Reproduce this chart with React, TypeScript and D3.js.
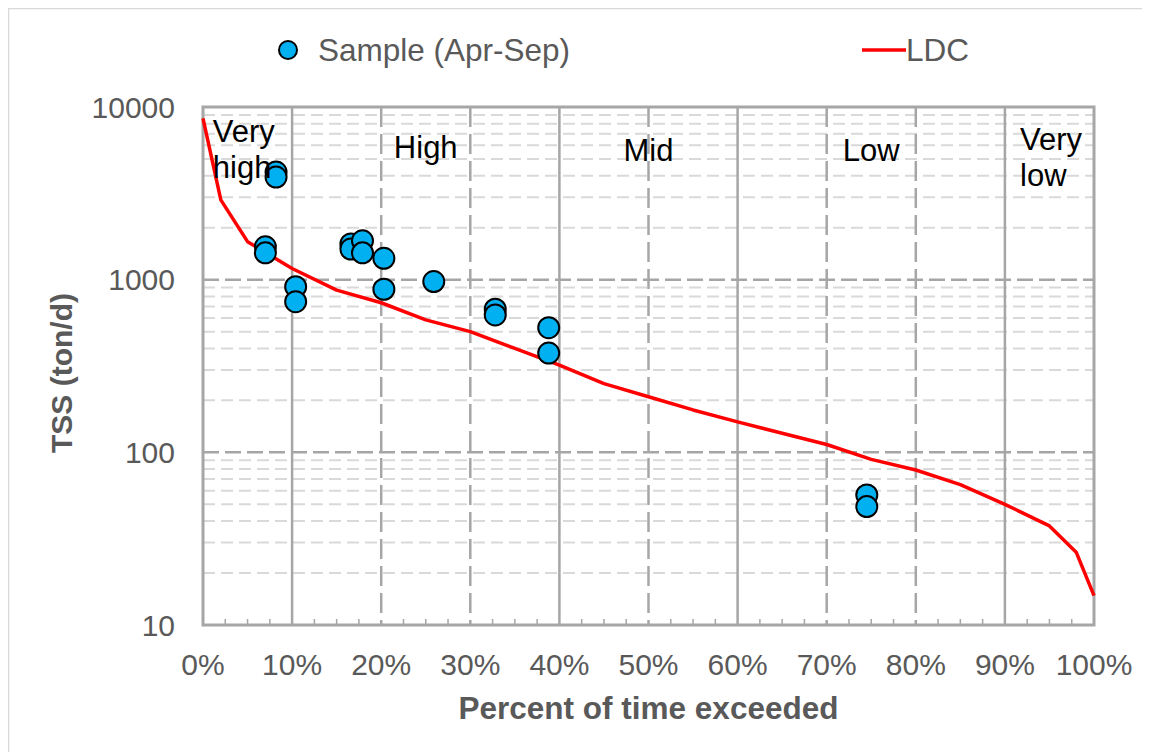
import React from "react";
import * as d3 from "d3";

// ---- data ----
const sampleExceed = [8.2, 8.2, 7.0, 7.0, 10.4, 10.4, 16.6, 16.6, 17.9, 17.9, 20.3, 20.3, 25.9, 32.8, 32.8, 38.8, 38.8, 74.5, 74.5];
const sampleTSS = [4200, 3930, 1550, 1430, 910, 745, 1610, 1505, 1680, 1430, 1330, 880, 975, 675, 625, 527, 376, 56.7, 48.5];

const ldcExceed = [0, 2, 5, 10, 15, 20, 25, 30, 35, 40, 45, 50, 55, 60, 65, 70, 75, 80, 85, 90, 95, 98, 100];
const ldcTSS = [8600, 2900, 1660, 1160, 870, 735, 585, 500, 400, 320, 250, 210, 176, 150, 129, 111, 91, 79, 65, 50, 37.5, 26.4, 14.8];

const xTicks = [0, 10, 20, 30, 40, 50, 60, 70, 80, 90, 100];
const yTicks = [10, 100, 1000, 10000];
const zoneBounds = [10, 40, 60, 90];

const legendLabels = ["Sample (Apr-Sep)", "LDC"];
const xTitle = "Percent of time exceeded";
const yTitle = "TSS (ton/d)";

const FONT = "'Liberation Sans', Arial, sans-serif";
const GRID_DARK = "#a6a6a6";
const GRID_LIGHT = "#d9d9d9";
const TEXT_GRAY = "#595959";

export default function App() {
  const left = 203, right = 1094, top = 107, bottom = 625;
  const x = d3.scaleLinear().domain([0, 100]).range([left, right]);
  const y = d3.scaleLog().domain([10, 10000]).range([bottom, top]);

  const minorY: number[] = [];
  for (let d = 10; d < 10000; d *= 10) {
    for (let k = 2; k <= 9; k++) minorY.push(d * k);
  }
  const minorX: number[] = d3.range(2.5, 100, 2.5).filter((v) => v % 10 !== 0);

  const line = d3
    .line<number>()
    .x((_, i) => x(ldcExceed[i]))
    .y((v) => y(v));

  return (
    <svg width={1142} height={744} style={{ display: "block", overflow: "hidden" }}>
      <g transform="translate(-8,-8)">
        <rect x={8} y={8} width={1142} height={744} fill="#fff" />
        {/* outer chart border */}
        <rect x={8.5} y={8.5} width={1200} height={800} fill="none" stroke={GRID_LIGHT} strokeWidth={1.5} />

        {/* minor horizontal gridlines */}
        {minorY.map((v) => (
          <line key={"my" + v} x1={left} x2={right} y1={y(v)} y2={y(v)} stroke={GRID_LIGHT} strokeWidth={2} strokeDasharray="12,6" />
        ))}
        {/* major horizontal gridlines */}
        {yTicks.slice(1, -1).map((v) => (
          <line key={"My" + v} x1={left} x2={right} y1={y(v)} y2={y(v)} stroke={GRID_DARK} strokeWidth={2.5} strokeDasharray="16,6" />
        ))}
        {/* vertical gridlines */}
        {xTicks.slice(1, -1).map((p) =>
          zoneBounds.includes(p) ? (
            <line key={"vx" + p} x1={x(p)} x2={x(p)} y1={top} y2={bottom} stroke={GRID_DARK} strokeWidth={2.5} />
          ) : (
            <line key={"vx" + p} x1={x(p)} x2={x(p)} y1={top} y2={bottom} stroke={GRID_DARK} strokeWidth={2.5} strokeDasharray="20,7" />
          )
        )}
        {/* minor x ticks */}
        {minorX.map((p) => (
          <line key={"tx" + p} x1={x(p)} x2={x(p)} y1={bottom} y2={bottom - 6} stroke={GRID_DARK} strokeWidth={1.5} />
        ))}
        {/* plot border */}
        <rect x={left} y={top} width={right - left} height={bottom - top} fill="none" stroke={GRID_DARK} strokeWidth={3} />

        {/* LDC */}
        <path d={line(ldcTSS) || ""} fill="none" stroke="#ff0000" strokeWidth={3.5} strokeLinejoin="round" />

        {/* samples */}
        {sampleTSS.map((v, i) => (
          <circle key={"s" + i} cx={x(sampleExceed[i])} cy={y(v)} r={10.5} fill="#00b0f0" stroke="#000" strokeWidth={2} />
        ))}

        {/* zone labels */}
        <g fontFamily={FONT} fontSize={31} fill="#000">
          <text x={x(1.1)} y={142}>Very</text>
          <text x={x(1.1)} y={178}>high</text>
          <text x={x(25)} y={158} textAnchor="middle">High</text>
          <text x={x(50)} y={161} textAnchor="middle">Mid</text>
          <text x={x(75)} y={161} textAnchor="middle">Low</text>
          <text x={x(91.7)} y={150}>Very</text>
          <text x={x(91.7)} y={186}>low</text>
        </g>

        {/* tick labels */}
        <g fontFamily={FONT} fontSize={30} fill={TEXT_GRAY}>
          {yTicks.map((v) => (
            <text key={"yl" + v} x={175} y={y(v) + 10.5} textAnchor="end">
              {String(v)}
            </text>
          ))}
          {xTicks.map((p) => (
            <text key={"xl" + p} x={x(p)} y={675} textAnchor="middle">
              {p + "%"}
            </text>
          ))}
        </g>

        {/* axis titles */}
        <text x={x(50)} y={719} textAnchor="middle" fontFamily={FONT} fontSize={31.5} fontWeight="bold" fill={TEXT_GRAY}>
          {xTitle}
        </text>
        <text
          transform={`translate(72,${(top + bottom) / 2 + 7}) rotate(-90)`}
          textAnchor="middle"
          fontFamily={FONT}
          fontSize={30}
          fontWeight="bold"
          fill={TEXT_GRAY}
        >
          {yTitle}
        </text>

        {/* legend */}
        <circle cx={288} cy={50} r={9} fill="#00b0f0" stroke="#000" strokeWidth={2} />
        <text x={318} y={61} fontFamily={FONT} fontSize={31.5} fill={TEXT_GRAY}>
          {legendLabels[0]}
        </text>
        <line x1={862} x2={906} y1={50} y2={50} stroke="#ff0000" strokeWidth={3.5} />
        <text x={906} y={61} fontFamily={FONT} fontSize={31.5} fill={TEXT_GRAY}>
          {legendLabels[1]}
        </text>
      </g>
    </svg>
  );
}
